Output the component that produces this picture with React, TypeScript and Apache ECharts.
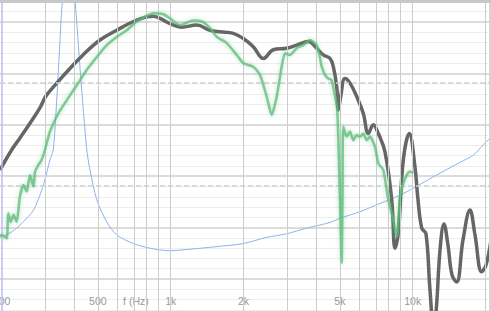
import React, { useEffect, useRef } from 'react';
import * as echarts from 'echarts';

// x axis: frequency (Hz), drawn on log10 scale
const tickFreqs = [200, 500, 1000, 2000, 5000, 10000];
const tickLabels = ['200', '500', '1k', '2k', '5k', '10k'];
const axisTitleFreq = 718;
const axisTitle = 'f (Hz)';
const gridFreqs = [300, 400, 500, 600, 700, 800, 900, 1000, 2000, 3000, 4000, 5000, 6000, 7000, 8000, 9000, 10000, 20000];
const cursorFreq = 200;
const borderFreq = 20660;
const xMinFreq = 197;
const xMaxFreq = 21070;
const dashedLevels = [78.2, 58.2];
const topLevel = 94;

// simulated response (gray)
const simFreq = [197, 220, 238, 262, 288, 305, 338, 384, 434, 510, 598, 701, 796, 847, 903, 993, 1110, 1280, 1454, 1599, 1814, 1995, 2194, 2413, 2655, 3015, 3317, 3704, 4011, 4272, 4553, 4698, 4853, 4927, 5040, 5250, 5507, 5870, 6251, 6555, 6875, 7211, 7685, 8191, 8453, 8723, 9149, 9683, 10221, 10500, 10900, 11350, 11790, 12190, 12490, 12970, 13470, 13990, 14540, 15200, 16140, 17250, 18090, 19280, 20090, 21070];
const simDb = [61.2, 65.1, 67.4, 70.3, 73.3, 75.6, 78.1, 81.0, 83.6, 86.5, 88.4, 90.1, 91.0, 91.1, 90.7, 89.7, 89.0, 89.4, 88.4, 88.1, 87.8, 86.8, 85.2, 82.9, 84.6, 84.9, 85.5, 86.2, 84.9, 83.6, 82.9, 81.3, 77.4, 72.9, 75.5, 79.0, 78.1, 75.5, 72.2, 68.3, 70.0, 68.3, 64.7, 55.4, 46.0, 49.0, 63.2, 68.3, 61.8, 55.8, 49.9, 48.8, 37.9, 31.1, 33.6, 45.6, 50.7, 46.6, 40.8, 39.4, 47.6, 53.4, 48.6, 41.4, 42.7, 47.6];

// measured response (green)
const measFreq = [197, 200, 210, 213, 218, 224, 231, 238, 246, 254, 262, 271, 275, 284, 293, 302, 317, 343, 372, 409, 450, 495, 544, 598, 658, 724, 796, 847, 932, 993, 1093, 1240, 1343, 1454, 1550, 1704, 1874, 1995, 2194, 2339, 2493, 2614, 2742, 2875, 2967, 3112, 3317, 3532, 3764, 4011, 4139, 4207, 4341, 4479, 4627, 4775, 4880, 5007, 5088, 5127, 5166, 5337, 5507, 5682, 5870, 6057, 6251, 6456, 6663, 6987, 7211, 7562, 7931, 8316, 8591, 8865, 9149, 9448, 9746, 10058];
const measDb = [48.2, 48.6, 47.9, 52.8, 51.1, 52.5, 51.1, 56.0, 58.3, 57.0, 60.2, 58.0, 60.9, 62.2, 63.2, 65.1, 68.7, 72.2, 74.8, 77.7, 80.7, 83.2, 85.5, 87.1, 88.4, 90.1, 91.2, 91.7, 91.5, 90.7, 89.4, 90.3, 90.1, 88.8, 87.1, 85.9, 83.6, 82.0, 81.3, 79.7, 75.5, 71.9, 75.5, 81.3, 83.9, 83.6, 84.9, 85.5, 86.5, 85.5, 83.1, 81.3, 79.7, 79.0, 78.7, 75.5, 72.9, 55.4, 43.1, 55.4, 69.6, 67.7, 68.7, 67.0, 68.0, 67.7, 68.3, 67.0, 67.7, 65.7, 62.5, 61.2, 55.4, 51.5, 48.2, 56.0, 58.6, 60.2, 60.9, 60.6];

// impedance (blue)
const impFreq = [197, 210, 231, 254, 271, 288, 302, 317, 327, 338, 347, 357, 380, 402, 424, 450, 464, 495, 544, 598, 701, 821, 993, 1202, 1550, 1995, 2493, 3015, 3648, 4553, 5007, 6057, 7328, 8865, 10720, 12970, 15690, 17800, 19580, 21070];
const impDb = [48.2, 48.6, 49.9, 51.8, 53.4, 56.3, 59.3, 63.2, 65.1, 74.8, 84.6, 94.3, 104, 94.3, 79.7, 65.1, 61.2, 55.4, 51.1, 48.6, 46.9, 46.0, 45.5, 45.8, 46.3, 46.9, 48.1, 48.8, 49.9, 51.0, 51.8, 53.1, 54.7, 56.3, 58.4, 60.6, 62.7, 64.1, 66.1, 67.6];

const lg = (v: number) => Math.log10(v);
const toData = (fs: number[], ds: number[]) => fs.map((f, i) => [lg(f), ds[i]]);

export default function App() {
  const ref = useRef<HTMLDivElement>(null);
  useEffect(() => {
    const chart = echarts.init(ref.current!, null, { renderer: 'svg' });
    const fmt = (v: number) => {
      for (let i = 0; i < tickFreqs.length; i++) {
        if (Math.abs(lg(tickFreqs[i]) - v) < 1e-6) return tickLabels[i];
      }
      if (Math.abs(lg(axisTitleFreq) - v) < 1e-6) return axisTitle;
      return '';
    };
    const vLines: any[] = gridFreqs.map((f) => ({ xAxis: lg(f), lineStyle: { color: '#cdcdcd', width: 1, type: 'solid' } }));
    vLines.push({ xAxis: lg(cursorFreq), lineStyle: { color: '#bcbcf0', width: 1.5, type: 'solid' } });
    vLines.push({ xAxis: lg(borderFreq), lineStyle: { color: '#d6d6d6', width: 2, type: 'solid' } });
    const hLines: any[] = dashedLevels.map((v) => ({ yAxis: v, lineStyle: { color: '#d0d0d0', width: 1.5, type: [5, 3] } }));
    hLines.push({ yAxis: topLevel, lineStyle: { color: '#c8c8c8', width: 3, type: 'solid' } });

    chart.setOption({
      animation: false,
      backgroundColor: '#ffffff',
      grid: { left: 0, right: 0, top: -29.4, bottom: -19.4, containLabel: false, outerBoundsMode: 'none' },
      xAxis: {
        type: 'value',
        min: lg(xMinFreq),
        max: lg(xMaxFreq),
        axisLine: { show: false },
        axisTick: { show: false },
        splitLine: { show: false },
        axisLabel: {
          inside: true,
          margin: 24,
          customValues: [...tickFreqs.map(lg), lg(axisTitleFreq)],
          formatter: fmt,
          color: '#999999',
          fontFamily: 'Liberation Sans',
          fontSize: 10.5,
        },
      },
      yAxis: {
        type: 'value',
        min: 30,
        max: 100,
        interval: 10,
        axisLine: { show: false },
        axisTick: { show: false },
        axisLabel: { show: false },
        splitLine: { show: true, lineStyle: { color: '#dcdcdc', width: 2 } },
        minorTick: { show: false, splitNumber: 5 },
        minorSplitLine: { show: true, lineStyle: { color: '#ededed', width: 1 } },
      },
      series: [
        {
          type: 'line',
          data: [],
          z: 1,
          silent: true,
          markLine: { silent: true, symbol: ['none', 'none'], label: { show: false }, data: [...vLines, ...hLines] },
        },
        {
          type: 'line',
          data: toData(impFreq, impDb),
          smooth: 0.3,
          symbol: 'none',
          lineStyle: { color: '#8cb4ec', width: 1 },
          z: 3,
        },
        {
          type: 'line',
          data: toData(simFreq, simDb),
          smooth: 0.4,
          symbol: 'none',
          lineStyle: { color: '#666666', width: 3.5 },
          z: 4,
        },
        {
          type: 'line',
          data: toData(measFreq, measDb),
          smooth: 0.2,
          symbol: 'none',
          lineStyle: { color: '#5dbb7a', width: 2.5, opacity: 0.75, shadowBlur: 4, shadowColor: 'rgba(93,187,122,0.6)' },
          z: 5,
        },
      ],
    });
    return () => chart.dispose();
  }, []);
  return <div ref={ref} style={{ position: 'fixed', left: 0, top: 0, width: 491, height: 311 }} />;
}
